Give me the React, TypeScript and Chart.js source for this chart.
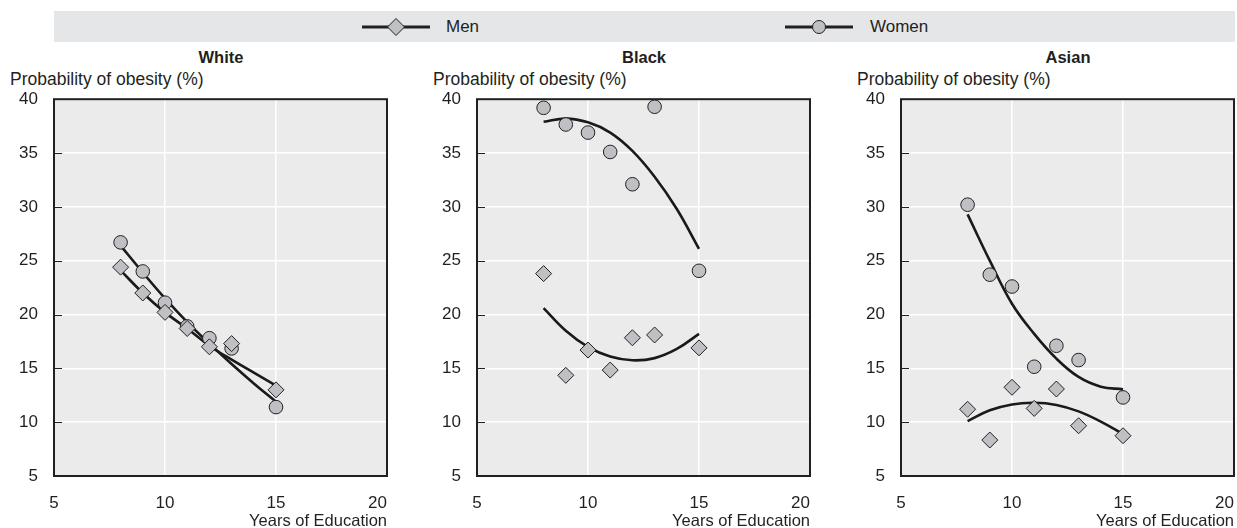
import React, { useEffect, useRef } from 'react';
import { Chart, registerables } from 'chart.js';
Chart.register(...registerables);

const FONT = "'Liberation Sans', Arial, sans-serif";
const INK = '#231f20';
const MARKER_FILL = '#bfc0c4';
const PLOT_BG = '#ebebeb';
const BAND_BG = '#e5e6e8';

// Years of education with observed points
const years = [8, 9, 10, 11, 12, 13, 15];
// Years at which the fitted curves were read
const fitYears = [8, 9, 10, 11, 12, 13, 14, 15];

const xTickValues = [5, 10, 15, 20];
const xTickLabels = ['5', '10', '15', '20'];
const yTitle = 'Probability of obesity (%)';
const xTitle = 'Years of Education';

// White
const whiteMen = [24.4, 22.0, 20.2, 18.7, 17.0, 17.3, 13.0];
const whiteWomen = [26.7, 24.0, 21.1, 18.9, 17.8, 16.85, 11.4];
const whiteMenFit = [24.1, 22.0, 20.2, 18.7, 17.1, 15.8, 14.6, 13.4];
const whiteWomenFit = [26.4, 23.9, 21.5, 19.3, 17.3, 15.4, 13.6, 11.9];

// Black
const blackMen = [23.8, 14.35, 16.7, 14.84, 17.84, 18.1, 16.9];
const blackWomen = [39.2, 37.65, 36.9, 35.1, 32.1, 39.3, 24.06];
const blackMenFit = [20.6, 18.5, 17.0, 16.1, 15.75, 15.95, 16.8, 18.2];
const blackWomenFit = [37.9, 38.2, 37.85, 36.9, 35.2, 32.8, 29.8, 26.1];

// Asian
const asianMen = [11.2, 8.34, 13.24, 11.28, 13.08, 9.67, 8.74];
const asianWomen = [30.2, 23.7, 22.6, 15.15, 17.1, 15.77, 12.3];
const asianMenFit = [10.1, 11.1, 11.65, 11.8, 11.6, 11.0, 10.05, 8.9];
const asianWomenFit = [29.3, 25.0, 21.0, 18.2, 15.9, 14.2, 13.3, 13.05];

const panels = [
  { title: 'White', plotLeft: 54, men: whiteMen, women: whiteWomen, menFit: whiteMenFit, womenFit: whiteWomenFit },
  { title: 'Black', plotLeft: 477, men: blackMen, women: blackWomen, menFit: blackMenFit, womenFit: blackWomenFit },
  { title: 'Asian', plotLeft: 901, men: asianMen, women: asianWomen, menFit: asianMenFit, womenFit: asianWomenFit },
];

const CANVAS_TOP = 73;
const Y_AXIS_W = 54;
const PLOT_W = 334;
const RIGHT_PAD = 2;
const CANVAS_W = Y_AXIS_W + PLOT_W + RIGHT_PAD + 6;
const CANVAS_H = 528 - CANVAS_TOP;

const decoPlugin = {
  id: 'panelDeco',
  beforeDraw(chart: any) {
    const { ctx, chartArea: a } = chart;
    ctx.save();
    ctx.fillStyle = PLOT_BG;
    ctx.fillRect(a.left, a.top, a.right - a.left, a.bottom - a.top);
    ctx.restore();
  },
  afterDraw(chart: any) {
    const { ctx, chartArea: a } = chart;
    const xs = chart.scales.x;
    const ys = chart.scales.y;
    ctx.save();
    ctx.strokeStyle = INK;
    ctx.lineWidth = 1;
    ys.ticks.forEach((t: any) => {
      const py = Math.round(ys.getPixelForValue(t.value)) + 0.5;
      ctx.beginPath();
      ctx.moveTo(a.left, py);
      ctx.lineTo(a.left + 8, py);
      ctx.stroke();
    });
    ctx.lineWidth = 2;
    ctx.strokeRect(a.left, a.top, a.right - a.left, a.bottom - a.top);
    ctx.fillStyle = INK;
    ctx.font = `17px ${FONT}`;
    ctx.textBaseline = 'middle';
    xTickValues.forEach((v, i) => {
      const px = xs.getPixelForValue(v);
      const last = i === xTickValues.length - 1;
      ctx.textAlign = last ? 'right' : 'center';
      ctx.fillText(xTickLabels[i], last ? a.right : px, 503 - CANVAS_TOP);
    });
    ctx.font = `16.5px ${FONT}`;
    ctx.textAlign = 'right';
    ctx.fillText(xTitle, a.right, 521 - CANVAS_TOP);
    ctx.restore();
  },
};

function Panel({ p }: { p: any }) {
  const ref = useRef<HTMLCanvasElement>(null);
  useEffect(() => {
    const pts = (arr: number[], xsArr: number[]) => xsArr.map((x, i) => ({ x, y: arr[i] }));
    const chart = new Chart(ref.current as HTMLCanvasElement, {
      type: 'scatter',
      data: {
        datasets: [
          { label: 'Men', data: pts(p.men, years), pointStyle: 'rectRot', pointRadius: 8, backgroundColor: MARKER_FILL, borderColor: INK, borderWidth: 1, showLine: false, order: 0 } as any,
          { label: 'Women', data: pts(p.women, years), pointStyle: 'circle', pointRadius: 6.8, backgroundColor: MARKER_FILL, borderColor: INK, borderWidth: 1, showLine: false, order: 0 } as any,
          { label: 'Men fit', data: pts(p.menFit, fitYears), showLine: true, pointRadius: 0, borderColor: '#1a1a1a', borderWidth: 2.6, tension: 0.4, fill: false, order: 1 } as any,
          { label: 'Women fit', data: pts(p.womenFit, fitYears), showLine: true, pointRadius: 0, borderColor: '#1a1a1a', borderWidth: 2.6, tension: 0.4, fill: false, order: 1 } as any,
        ],
      },
      options: {
        animation: false,
        responsive: false,
        maintainAspectRatio: false,
        layout: { padding: { top: 10, right: RIGHT_PAD, left: 0, bottom: 0 } },
        plugins: { legend: { display: false }, tooltip: { enabled: false } },
        scales: {
          x: {
            type: 'linear', min: 5, max: 20,
            ticks: { display: false, stepSize: 5 },
            grid: { color: '#ffffff', lineWidth: 1.5, drawTicks: false },
            border: { display: false },
            afterFit: (s: any) => { s.height = 52; },
          },
          y: {
            type: 'linear', min: 5, max: 40,
            ticks: { stepSize: 5, color: INK, font: { family: FONT, size: 17 }, padding: 16 },
            grid: { color: '#ffffff', lineWidth: 1.5, drawTicks: false },
            border: { display: false },
            afterFit: (s: any) => { s.width = Y_AXIS_W; },
          },
        },
      } as any,
      plugins: [decoPlugin],
    });
    return () => chart.destroy();
  }, [p]);
  const left = p.plotLeft - Y_AXIS_W;
  return (
    <>
      <div style={{ position: 'absolute', left: p.plotLeft, width: PLOT_W, top: 47, height: 20, lineHeight: '20px', textAlign: 'center', fontFamily: FONT, fontWeight: 'bold', fontSize: 16.5, color: INK }}>{p.title}</div>
      <div style={{ position: 'absolute', left: p.plotLeft - 44, top: 69, height: 20, lineHeight: '20px', whiteSpace: 'nowrap', fontFamily: FONT, fontSize: 17.5, color: INK }}>{yTitle}</div>
      <canvas ref={ref} width={CANVAS_W} height={CANVAS_H} style={{ position: 'absolute', left, top: CANVAS_TOP, width: CANVAS_W, height: CANVAS_H }} />
    </>
  );
}

function LegendItem({ x, label, textX, shape }: { x: number; label: string; textX: number; shape: 'diamond' | 'circle' }) {
  return (
    <>
      <svg width={68} height={22} style={{ position: 'absolute', left: x, top: 16 }}>
        <line x1={0} y1={11} x2={68} y2={11} stroke={INK} strokeWidth={3} />
        {shape === 'diamond' ? (
          <polygon points="34,2.5 42.5,11 34,19.5 25.5,11" fill={MARKER_FILL} stroke={INK} strokeWidth={1} />
        ) : (
          <circle cx={34} cy={11} r={6.5} fill={MARKER_FILL} stroke={INK} strokeWidth={1} />
        )}
      </svg>
      <div style={{ position: 'absolute', left: textX, top: 17, height: 20, lineHeight: '20px', fontFamily: FONT, fontSize: 17, color: INK }}>{label}</div>
    </>
  );
}

export default function App() {
  return (
    <div style={{ position: 'absolute', left: 0, top: 0, width: 1237, height: 528, background: '#fff', overflow: 'hidden' }}>
      <div style={{ position: 'absolute', left: 54, top: 11, width: 1181, height: 31, background: BAND_BG }} />
      <LegendItem x={362} label="Men" textX={446} shape="diamond" />
      <LegendItem x={785} label="Women" textX={870} shape="circle" />
      {panels.map((p) => <Panel key={p.title} p={p} />)}
    </div>
  );
}
